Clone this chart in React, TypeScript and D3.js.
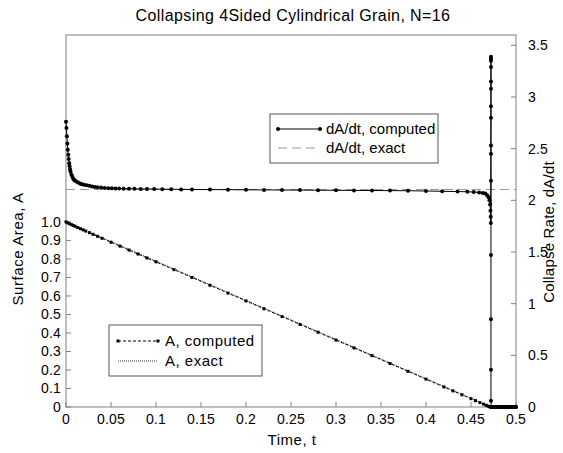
import React from "react";
import * as d3 from "d3";

const title = "Collapsing 4Sided Cylindrical Grain, N=16";
const xTicks = [0, 0.05, 0.1, 0.15, 0.2, 0.25, 0.3, 0.35, 0.4, 0.45, 0.5];
const xTickLabels = ["0", "0.05", "0.1", "0.15", "0.2", "0.25", "0.3", "0.35", "0.4", "0.45", "0.5"];
const leftTicks = [0, 0.1, 0.2, 0.3, 0.4, 0.5, 0.6, 0.7, 0.8, 0.9, 1.0];
const leftTickLabels = ["0", "0.1", "0.2", "0.3", "0.4", "0.5", "0.6", "0.7", "0.8", "0.9", "1.0"];
const rightTicks = [0, 0.5, 1, 1.5, 2, 2.5, 3, 3.5];
const rightTickLabels = ["0", "0.5", "1", "1.5", "2", "2.5", "3", "3.5"];

// dA/dt computed
const rateT = [
  0, 0.0005, 0.001, 0.0015, 0.002, 0.0025, 0.003, 0.0035, 0.004, 0.0045, 0.005, 0.006, 0.007, 0.008, 0.009, 0.01,
  0.012, 0.014, 0.016, 0.018, 0.02, 0.023, 0.026, 0.029, 0.032, 0.035, 0.039, 0.043, 0.047, 0.051, 0.055, 0.059,
  0.064, 0.07, 0.076, 0.083, 0.09, 0.098, 0.107, 0.117, 0.128, 0.14, 0.16, 0.18, 0.2, 0.22, 0.24, 0.26, 0.28, 0.3,
  0.32, 0.34, 0.36, 0.38, 0.4, 0.418, 0.435, 0.446, 0.453, 0.459, 0.463, 0.466, 0.468, 0.4695, 0.4705, 0.4712,
  0.4716, 0.4719, 0.472,
  0.4722, 0.4722, 0.4722, 0.4722, 0.4722, 0.4722, 0.4722, 0.4722, 0.4722, 0.4722, 0.4722, 0.4722, 0.4722, 0.4722, 0.4722,
  0.4725, 0.474, 0.476, 0.478, 0.48, 0.482, 0.484, 0.486, 0.488, 0.49, 0.492, 0.494, 0.496, 0.498, 0.5,
];
const rateV = [
  2.76, 2.7, 2.62, 2.55, 2.49, 2.44, 2.4, 2.36, 2.33, 2.3, 2.28, 2.25, 2.23, 2.21, 2.2, 2.19,
  2.18, 2.17, 2.16, 2.155, 2.15, 2.145, 2.14, 2.135, 2.13, 2.127, 2.123, 2.12, 2.118, 2.116, 2.115, 2.114,
  2.113, 2.112, 2.111, 2.11, 2.11, 2.109, 2.108, 2.107, 2.106, 2.105, 2.104, 2.103, 2.102, 2.101, 2.1, 2.099, 2.098, 2.097,
  2.096, 2.095, 2.094, 2.093, 2.09, 2.088, 2.085, 2.083, 2.08, 2.077, 2.072, 2.065, 2.05, 2.03, 2.0, 1.96,
  1.9, 1.84, 1.78,
  3.39, 3.37, 3.35, 3.29, 3.15, 3.08, 2.91, 2.8, 2.53, 2.45, 2.19, 1.47, 0.85, 0.36, 0.06,
  0, 0, 0, 0, 0, 0, 0, 0, 0, 0, 0, 0, 0, 0, 0,
];
// dA/dt exact
const rateExactT = [0, 0.5];
const rateExactV = [2.105, 2.105];

// A computed
const areaT = [
  0, 0.002, 0.004, 0.006, 0.008, 0.01, 0.013, 0.016, 0.019, 0.022, 0.026, 0.03, 0.035, 0.04, 0.05, 0.06, 0.07, 0.08,
  0.09, 0.1, 0.12, 0.14, 0.16, 0.18, 0.2, 0.22, 0.24, 0.26, 0.28, 0.3, 0.32, 0.34, 0.36, 0.38, 0.4, 0.42, 0.43, 0.44,
  0.45, 0.455, 0.46, 0.464, 0.467, 0.469, 0.4705, 0.4715, 0.472,
  0.473, 0.474, 0.475, 0.476, 0.477, 0.478, 0.479, 0.48, 0.481, 0.482, 0.483, 0.484, 0.485, 0.486, 0.487, 0.488,
  0.489, 0.49, 0.491, 0.492, 0.493, 0.494, 0.495, 0.496, 0.497, 0.498, 0.499, 0.5,
];
const areaV = [
  1.0, 0.9946, 0.99, 0.9855, 0.981, 0.9768, 0.97, 0.9636, 0.957, 0.9505, 0.9418, 0.9331, 0.9224, 0.9117, 0.8904,
  0.8691, 0.8478, 0.8266, 0.8055, 0.7844, 0.7421, 0.6999, 0.6576, 0.6154, 0.5731, 0.5308, 0.4886, 0.4463, 0.4041,
  0.3618, 0.3195, 0.2773, 0.235, 0.1928, 0.1505, 0.1082, 0.0871, 0.066, 0.0449, 0.0343, 0.0237, 0.0153, 0.009,
  0.0048, 0.002, 0.0004, 0,
  0, 0, 0, 0, 0, 0, 0, 0, 0, 0, 0, 0, 0, 0, 0, 0, 0, 0, 0, 0, 0, 0, 0, 0, 0, 0, 0, 0,
];
// A exact
const areaExactT = [0, 0.4725, 0.5];
const areaExactV = [1, 0, 0];

const legendRate = ["dA/dt, computed", "dA/dt, exact"];
const legendArea = ["A, computed", "A, exact"];

const W = 563;
const H = 453;
const M = { left: 66, right: 516, top: 35, bottom: 407 };
const FONT = "'Liberation Sans', Arial, sans-serif";
const AXIS = "#808080";

export default function App() {
  const x = d3.scaleLinear().domain([0, 0.5]).range([M.left, M.right]);
  const yL = d3.scaleLinear().domain([0, 2.01]).range([M.bottom, M.top]);
  const yR = d3.scaleLinear().domain([0, 3.6]).range([M.bottom, M.top]);

  const rateData = rateT.map((t, i) => [t, rateV[i]] as [number, number]);
  const areaData = areaT.map((t, i) => [t, areaV[i]] as [number, number]);
  const rateExact = rateExactT.map((t, i) => [t, rateExactV[i]] as [number, number]);
  const areaExact = areaExactT.map((t, i) => [t, areaExactV[i]] as [number, number]);

  const lineR = d3.line<[number, number]>().x((d) => x(d[0])).y((d) => yR(d[1]));
  const lineL = d3.line<[number, number]>().x((d) => x(d[0])).y((d) => yL(d[1]));

  const fs = 14;
  const lfs = 15;

  return (
    <svg width={W} height={H} style={{ position: "absolute", left: 0, top: 0, background: "#fff" }} fontFamily={FONT}>
      <rect x={0} y={0} width={W} height={H} fill="#fff" />
      <text x={(M.left + M.right) / 2 + 2} y={21} textAnchor="middle" fontSize={16} letterSpacing={0.4} fill="#000">{title}</text>

      {/* frame */}
      <rect x={M.left} y={M.top} width={M.right - M.left} height={M.bottom - M.top} fill="none" stroke={AXIS} strokeWidth={1} />

      {/* x ticks */}
      {xTicks.map((t, i) => (
        <g key={"xt" + i}>
          <line x1={x(t)} x2={x(t)} y1={M.bottom} y2={M.bottom - 5} stroke={AXIS} />
          <text x={x(t)} y={M.bottom + 17} textAnchor="middle" fontSize={fs} letterSpacing={0.2}>{xTickLabels[i]}</text>
        </g>
      ))}
      {/* left ticks */}
      {leftTicks.map((t, i) => (
        <g key={"lt" + i}>
          <line x1={M.left} x2={M.left + 5} y1={yL(t)} y2={yL(t)} stroke={AXIS} />
          <text x={M.left - 5} y={yL(t) + 5} textAnchor="end" fontSize={fs} letterSpacing={0.2}>{leftTickLabels[i]}</text>
        </g>
      ))}
      {/* right ticks */}
      {rightTicks.map((t, i) => (
        <g key={"rt" + i}>
          <line x1={M.right} x2={M.right - 5} y1={yR(t)} y2={yR(t)} stroke={AXIS} />
          <text x={M.right + 12} y={yR(t) + 5} textAnchor="start" fontSize={fs} letterSpacing={0.2}>{rightTickLabels[i]}</text>
        </g>
      ))}

      <text x={(M.left + M.right) / 2 + 1} y={445} textAnchor="middle" fontSize={lfs} letterSpacing={0.5}>Time, t</text>
      <text transform={`translate(23,249) rotate(-90)`} textAnchor="middle" fontSize={lfs} letterSpacing={0.6}>Surface Area, A</text>
      <text transform={`translate(554,232) rotate(-90)`} textAnchor="middle" fontSize={lfs} letterSpacing={0.2}>Collapse Rate, dA/dt</text>

      {/* exact rate */}
      <path d={lineR(rateExact) || ""} fill="none" stroke="#999" strokeWidth={1} strokeDasharray="9,5" />
      {/* exact area */}
      <path d={lineL(areaExact) || ""} fill="none" stroke="#000" strokeWidth={0.8} strokeDasharray="1,1" />
      {/* computed area */}
      <path d={lineL(areaData) || ""} fill="none" stroke="#000" strokeWidth={1} strokeDasharray="3,2" />
      {areaData.map((d, i) => (
        <rect key={"am" + i} x={x(d[0]) - 1.5} y={yL(d[1]) - 1.5} width={3} height={3} fill="#000" />
      ))}
      {/* computed rate */}
      <path d={lineR(rateData) || ""} fill="none" stroke="#000" strokeWidth={1} />
      {rateData.map((d, i) => (
        <circle key={"rm" + i} cx={x(d[0])} cy={yR(d[1])} r={2} fill="#000" />
      ))}

      {/* legend rate */}
      <g>
        <rect x={270} y={114} width={168} height={49} fill="#fff" stroke="#555" strokeWidth={1} />
        <line x1={278} x2={320} y1={129} y2={129} stroke="#000" />
        <circle cx={278} cy={129} r={2} fill="#000" />
        <circle cx={320} cy={129} r={2} fill="#000" />
        <text x={326} y={134} fontSize={lfs}>{legendRate[0]}</text>
        <line x1={278} x2={320} y1={148} y2={148} stroke="#999" strokeDasharray="9,5" />
        <text x={326} y={153} fontSize={lfs}>{legendRate[1]}</text>
      </g>
      {/* legend area */}
      <g>
        <rect x={109} y={325} width={153} height={51} fill="#fff" stroke="#555" strokeWidth={1} />
        <line x1={118} x2={158} y1={341} y2={341} stroke="#000" strokeDasharray="3,2" />
        <rect x={116.5} y={339.5} width={3} height={3} fill="#000" />
        <rect x={156.5} y={339.5} width={3} height={3} fill="#000" />
        <text x={165} y={346} fontSize={lfs} letterSpacing={0.5}>{legendArea[0]}</text>
        <line x1={118} x2={158} y1={361} y2={361} stroke="#000" strokeWidth={0.8} strokeDasharray="1,1" />
        <text x={165} y={366} fontSize={lfs} letterSpacing={0.5}>{legendArea[1]}</text>
      </g>
    </svg>
  );
}
